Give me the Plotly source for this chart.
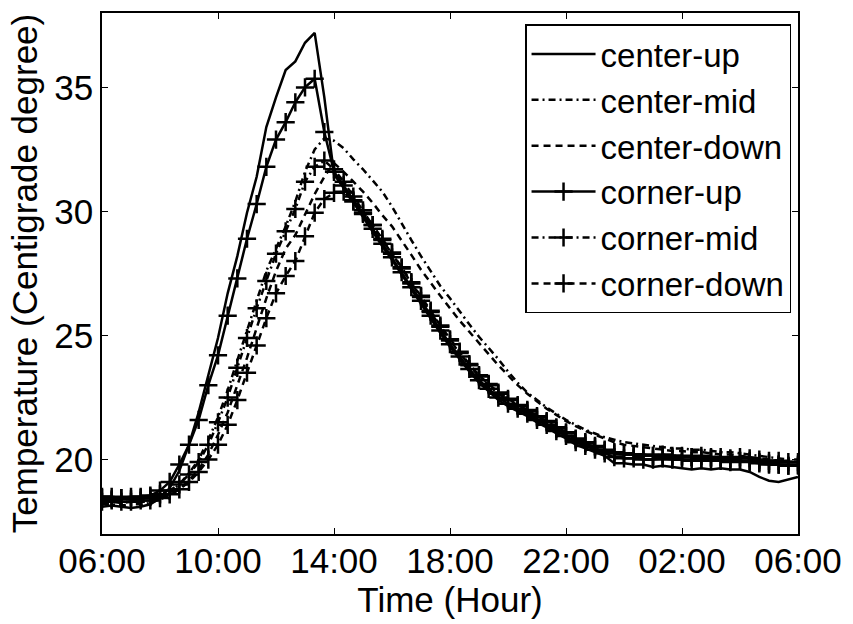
import pandas as pd
import plotly.graph_objects as go

# Time grid: 20-minute samples from 06:00 to 06:00 next day
times = pd.date_range("2013-07-01 06:00", "2013-07-02 06:00", freq="20min")

series_names = ["center-up", "center-mid", "center-down", "corner-up", "corner-mid", "corner-down"]

center_up = [
    18.10, 18.15, 18.10, 18.05, 18.10, 18.20, 18.45, 18.85, 19.55, 20.60, 21.90, 23.40,
    24.90, 26.70, 28.20, 29.95, 31.40, 33.40, 34.60, 35.70, 36.05, 36.80, 37.20, 34.60,
    31.50, 30.95, 30.35, 29.80, 29.20, 28.60, 28.05, 27.45, 26.85, 26.30, 25.70, 25.10,
    24.55, 24.05, 23.55, 23.10, 22.75, 22.40, 22.15, 21.95, 21.75, 21.50, 21.30, 21.05,
    20.85, 20.60, 20.45, 20.30, 20.15, 19.85, 19.85, 19.80, 19.80, 19.70, 19.75, 19.70,
    19.65, 19.60, 19.65, 19.60, 19.65, 19.60, 19.60, 19.50, 19.30, 19.15, 19.10, 19.20,
    19.30,
]
center_mid = [
    18.20, 18.20, 18.15, 18.20, 18.20, 18.25, 18.40, 18.65, 19.00, 19.45, 20.00, 20.80,
    21.70, 22.80, 24.00, 25.20, 26.40, 27.60, 28.50, 29.40, 30.40, 31.60, 32.50, 32.95,
    32.85, 32.55, 32.10, 31.70, 31.25, 30.80, 30.20, 29.50, 28.85, 28.20, 27.60, 27.00,
    26.50, 25.95, 25.45, 24.95, 24.50, 24.05, 23.55, 23.10, 22.70, 22.40, 22.10, 21.85,
    21.60, 21.40, 21.20, 21.05, 20.90, 20.80, 20.70, 20.65, 20.60, 20.55, 20.50, 20.45,
    20.45, 20.40, 20.40, 20.35, 20.30, 20.30, 20.25, 20.20, 20.15, 20.10, 20.05, 20.00,
    20.00,
]
center_down = [
    18.30, 18.30, 18.25, 18.30, 18.30, 18.30, 18.40, 18.55, 18.80, 19.15, 19.60, 20.20,
    21.00, 21.90, 23.00, 24.10, 25.30, 26.50, 27.60, 28.50, 29.05, 29.90, 30.70, 31.40,
    31.95, 31.60, 31.20, 30.80, 30.35, 29.85, 29.40, 28.85, 28.25, 27.65, 27.10, 26.60,
    26.10, 25.60, 25.15, 24.70, 24.25, 23.80, 23.40, 23.00, 22.65, 22.35, 22.05, 21.80,
    21.55, 21.35, 21.15, 21.00, 20.85, 20.70, 20.60, 20.55, 20.50, 20.45, 20.40, 20.35,
    20.35, 20.30, 20.30, 20.25, 20.20, 20.20, 20.15, 20.10, 20.05, 20.00, 19.95, 19.90,
    19.90,
]
corner_up = [
    18.50, 18.50, 18.45, 18.50, 18.50, 18.55, 18.75, 19.10, 19.80, 20.60, 21.60, 23.00,
    24.20, 25.80, 27.30, 28.90, 30.30, 31.80, 32.90, 33.60, 34.40, 35.00, 35.35, 33.20,
    31.60, 31.05, 30.45, 29.90, 29.30, 28.70, 28.15, 27.55, 26.95, 26.40, 25.80, 25.20,
    24.65, 24.15, 23.65, 23.20, 22.85, 22.50, 22.25, 22.05, 21.85, 21.60, 21.40, 21.15,
    20.95, 20.70, 20.55, 20.40, 20.25, 20.10, 20.05, 20.05, 20.00, 20.00, 20.05, 20.00,
    20.00, 19.95, 20.00, 19.95, 19.95, 19.90, 19.95, 19.90, 19.85, 19.80, 19.80, 19.75,
    19.80,
]
corner_mid = [
    18.45, 18.40, 18.45, 18.40, 18.45, 18.50, 18.60, 18.75, 19.00, 19.40, 19.90, 20.60,
    21.50, 22.50, 23.70, 24.90, 26.10, 27.20, 28.30, 29.20, 30.10, 31.20, 31.80, 32.05,
    31.70, 31.20, 30.60, 30.05, 29.45, 28.85, 28.30, 27.70, 27.10, 26.55, 25.95, 25.35,
    24.80, 24.30, 23.80, 23.35, 23.00, 22.65, 22.40, 22.15, 21.95, 21.70, 21.50, 21.25,
    21.05, 20.80, 20.65, 20.50, 20.35, 20.25, 20.20, 20.20, 20.15, 20.15, 20.20, 20.15,
    20.15, 20.10, 20.15, 20.10, 20.10, 20.05, 20.10, 20.05, 20.00, 19.95, 19.95, 19.90,
    19.90,
]
corner_down = [
    18.30, 18.35, 18.30, 18.30, 18.35, 18.35, 18.45, 18.60, 18.80, 19.10, 19.50, 20.00,
    20.60, 21.40, 22.40, 23.50, 24.60, 25.70, 26.70, 27.40, 28.00, 29.00, 29.95, 30.50,
    30.75, 30.80, 30.40, 29.95, 29.45, 28.90, 28.35, 27.75, 27.15, 26.60, 26.00, 25.40,
    24.85, 24.35, 23.85, 23.40, 23.05, 22.70, 22.45, 22.20, 22.00, 21.75, 21.55, 21.30,
    21.10, 20.85, 20.70, 20.55, 20.40, 20.30, 20.25, 20.20, 20.20, 20.15, 20.15, 20.10,
    20.10, 20.10, 20.05, 20.05, 20.00, 20.00, 19.95, 19.95, 19.90, 19.85, 19.80, 19.75,
    19.75,
]

series_values = [center_up, center_mid, center_down, corner_up, corner_mid, corner_down]
dash_styles = ["solid", "7px,4px,2px,4px", "7px,5px", "solid", "7px,4px,2px,4px", "7px,5px"]
has_marker = [False, False, False, True, True, True]

FONT = "Liberation Sans, Arial, Helvetica, sans-serif"
FS = 35

fig = go.Figure()
for name, vals, dash, mk in zip(series_names, series_values, dash_styles, has_marker):
    fig.add_trace(go.Scatter(
        x=times, y=vals, name=name,
        mode="lines+markers" if mk else "lines",
        line=dict(color="black", width=2.5, dash=dash),
        marker=dict(symbol="cross-thin", size=13, line=dict(color="black", width=2.5)),
    ))

fig.update_layout(
    width=853, height=624,
    margin=dict(l=102, r=49, t=11, b=90),
    paper_bgcolor="white", plot_bgcolor="white",
    font=dict(family=FONT, size=FS, color="black"),
    showlegend=True,
    legend=dict(
        x=0.990, y=0.978, xanchor="right", yanchor="top",
        bgcolor="white", bordercolor="black", borderwidth=1.5,
        font=dict(family=FONT, size=33, color="black"),
        itemwidth=64, tracegroupgap=0,
    ),
    hovermode=False,
)
fig.update_xaxes(
    type="date",
    range=[times[0], times[-1]],
    tickformat="%H:%M", dtick=4 * 3600 * 1000, tick0=times[0],
    showline=True, linecolor="black", linewidth=1.5, mirror="ticks",
    ticks="inside", ticklen=6, tickcolor="black", tickwidth=1,
    showgrid=False, zeroline=False,
    tickfont=dict(family=FONT, size=FS),
    ticklabelstandoff=-5,
    title=dict(text="Time (Hour)", font=dict(family=FONT, size=FS), standoff=0),
)
fig.update_yaxes(
    range=[17, 38],
    tickvals=[20, 25, 30, 35],
    showline=True, linecolor="black", linewidth=1.5, mirror="ticks",
    ticks="inside", ticklen=6, tickcolor="black", tickwidth=1,
    showgrid=False, zeroline=False,
    tickfont=dict(family=FONT, size=FS),
    title=dict(text="Temperature (Centigrade degree)", font=dict(family=FONT, size=FS), standoff=6),
)

fig.write_html("out.html")
